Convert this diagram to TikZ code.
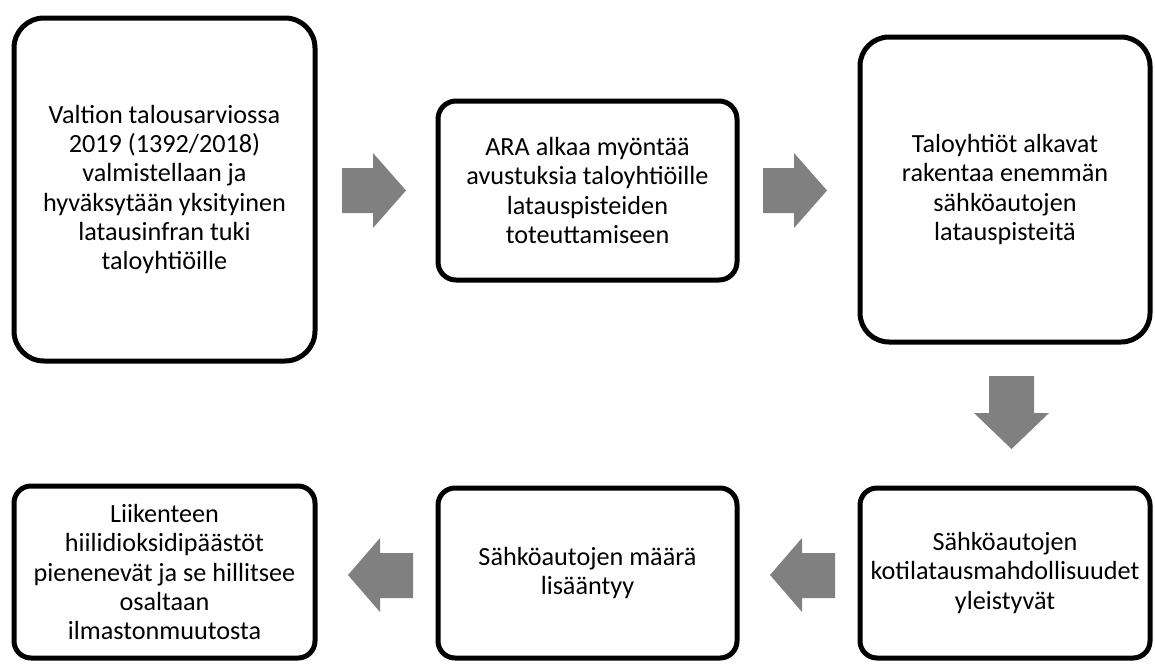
\documentclass[tikz,border=0pt]{standalone}
\usepackage{fontspec}
\setmainfont{Carlito}
\begin{document}
\begin{tikzpicture}[x=1pt,y=-1pt,
  stage/.style={draw=black, line width=5pt, fill=white, align=center,
    inner sep=0pt, font=\fontsize{26.2}{29.2}\selectfont},
  flow/.style={fill=black!50, draw=none}]
\useasboundingbox (0,0) rectangle (1155,664);

% process stages (top row left to right, bottom row right to left)
\node[stage, minimum width=301pt, minimum height=343pt, rounded corners=30pt]
  (s1) at (164.5,189.5) {Valtion talousarviossa\\2019 (1392/2018)\\valmistellaan ja\\hyväksytään yksityinen\\latausinfran tuki\\taloyhtiöille};
\node[stage, minimum width=299pt, minimum height=179pt, rounded corners=18pt]
  (s2) at (587.5,190.5) {ARA alkaa myöntää\\avustuksia taloyhtiöille\\latauspisteiden\\toteuttamiseen};
\node[stage, minimum width=290pt, minimum height=305pt, rounded corners=29pt]
  (s3) at (1005,189.5) {Taloyhtiöt alkavat\\rakentaa enemmän\\sähköautojen\\latauspisteitä};
\node[stage, minimum width=290pt, minimum height=170pt, rounded corners=17pt]
  (s4) at (1005,573) {Sähköautojen\\kotilatausmahdollisuudet\\yleistyvät};
\node[stage, minimum width=299pt, minimum height=170pt, rounded corners=17pt]
  (s5) at (587.5,573) {Sähköautojen määrä\\lisääntyy};
\node[stage, minimum width=301pt, minimum height=172pt, rounded corners=17pt]
  (s6) at (164.5,572) {Liikenteen\\hiilidioksidipäästöt\\pienenevät ja se hillitsee\\osaltaan\\ilmastonmuutosta};

% block arrows between stages
\fill[flow] (342,168) -- (373,168) -- (373,153) -- (406,190.5) -- (373,228)
  -- (373,213) -- (342,213) -- cycle;
\fill[flow] (763,168) -- (794,168) -- (794,153) -- (827,190.5) -- (794,228)
  -- (794,213) -- (763,213) -- cycle;
\fill[flow] (989,376) -- (1034,376) -- (1034,413) -- (1049,413) -- (1011.5,449)
  -- (974,413) -- (989,413) -- cycle;
\fill[flow] (835,553) -- (802,553) -- (802,538) -- (770,575) -- (802,612)
  -- (802,598) -- (835,598) -- cycle;
\fill[flow] (413,553) -- (380,553) -- (380,538) -- (348,575) -- (380,612)
  -- (380,598) -- (413,598) -- cycle;
\end{tikzpicture}
\end{document}
